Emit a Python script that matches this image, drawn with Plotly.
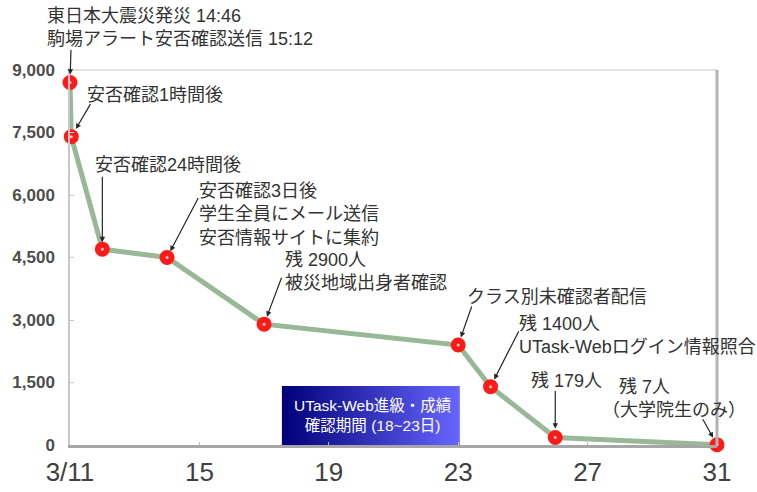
import plotly.graph_objects as go

# ---- data ----
days = [11, 11.04, 12, 14, 17, 23, 24, 26, 31]
remaining = [8700, 7400, 4700, 4500, 2900, 2400, 1400, 179, 7]
x_tickvals = [11, 15, 19, 23, 27, 31]
x_ticktext = ["3/11", "15", "19", "23", "27", "31"]
y_tickvals = [0, 1500, 3000, 4500, 6000, 7500, 9000]
y_ticktext = ["0", "1,500", "3,000", "4,500", "6,000", "7,500", "9,000"]
period_label = "UTask-Web進級・成績<br>確認期間 (18~23日)"

# ---- layout geometry (pixels) ----
W, H = 757, 492
L, R, T, B = 70, 717, 70, 445
PW, PH = R - L, B - T


def paper(px, py):
    return (px - L) / PW, (B - py) / PH


FONT = "Liberation Sans, Noto Sans CJK JP, sans-serif"
TXT = "#333333"

fig = go.Figure()

# period box with horizontal gradient
box_x0, box_x1, box_top = 17.55, 23.05, 1416
fig.add_trace(go.Scatter(
    x=[box_x0, box_x1, box_x1, box_x0, box_x0],
    y=[0, 0, box_top, box_top, 0],
    mode="lines", line=dict(width=0), fill="toself",
    fillgradient=dict(type="horizontal",
                      colorscale=[[0, "#00007a"], [1, "#6666ff"]]),
    hoverinfo="skip", showlegend=False,
))

fig.add_trace(go.Scatter(
    x=days, y=remaining, mode="lines+markers",
    line=dict(color="#98b898", width=5),
    marker=dict(size=9, color="#ffd0d0", line=dict(color="#ff1a1a", width=6)),
    cliponaxis=False, showlegend=False,
))

# arrows: (index, ax, ay, standoff)
arrows = [(0, 1, -34, 8), (1, 20, -34, 9), (2, 0, -74, 7), (3, 32, -61, 7),
          (4, 18, -48, 8), (5, 14, -40, 8), (6, 29, -57, 8), (7, 0, -48, 9),
          (8, -15, -27, 8)]
annotations = []
for i, ax, ay, so in arrows:
    annotations.append(dict(
        x=days[i], y=remaining[i], xref="x", yref="y", ax=ax, ay=ay,
        text="", showarrow=True, arrowhead=2, arrowsize=0.9, arrowwidth=1.2,
        arrowcolor="#262626", standoff=so,
    ))

# labels: (text, left px, center y px)
labels = [
    ("東日本大震災発災 14:46<br>駒場アラート安否確認送信 15:12", 45, 28),
    ("安否確認1時間後", 85, 95),
    ("安否確認24時間後", 93, 165),
    ("安否確認3日後<br>学生全員にメール送信<br>安否情報サイトに集約", 197, 214),
    ("残 2900人<br>被災地域出身者確認", 283, 271),
    ("クラス別未確認者配信", 465, 297),
    ("残 1400人<br>UTask-Webログイン情報照合", 517, 335),
    ("残 179人", 529, 381),
    ("残 7人", 617, 387),
    ("（大学院生のみ）", 600, 410),
]
for text, lx, cy in labels:
    px_, py_ = paper(lx, cy)
    annotations.append(dict(
        x=px_, y=py_, xref="paper", yref="paper", text=text, showarrow=False,
        xanchor="left", yanchor="middle", align="left",
        font=dict(family=FONT, size=18, color=TXT),
    ))

bx, by = paper(372, 415)
annotations.append(dict(
    x=bx, y=by, xref="paper", yref="paper", text=period_label, showarrow=False,
    xanchor="center", yanchor="middle", align="center",
    font=dict(family=FONT, size=15.5, color="white"),
))

fig.update_layout(
    width=W, height=H,
    margin=dict(l=L, r=W - R, t=T, b=H - B, pad=0, autoexpand=False),
    paper_bgcolor="white", plot_bgcolor="white",
    annotations=annotations,
    shapes=[
        dict(type="line", xref="paper", yref="paper", x0=0, x1=1, y0=1, y1=1,
             line=dict(color="#e2e2e2", width=2)),
        dict(type="line", xref="paper", yref="paper", x0=1, x1=1, y0=0, y1=1,
             line=dict(color="#b3b3b3", width=3)),
    ],
    xaxis=dict(
        range=[11, 31], tickvals=x_tickvals, ticktext=x_ticktext,
        showgrid=False, zeroline=False, showline=True, automargin=False,
        linecolor="#a6a6a6", linewidth=2.5,
        ticks="inside", ticklen=3, tickcolor="#c0c0c0",
        tickfont=dict(family="Liberation Sans", size=26, color="#404040"),
        ticklabelstandoff=2,
    ),
    yaxis=dict(
        range=[0, 9000], tickvals=y_tickvals, ticktext=y_ticktext,
        showgrid=False, zeroline=False, showline=True, automargin=False,
        linecolor="#c8c8c8", linewidth=1.5,
        ticks="inside", ticklen=4, tickcolor="#c8c8c8",
        tickfont=dict(family="Liberation Sans", size=17, color="#4d4d4d",
                      weight="bold"),
        ticklabelstandoff=10,
    ),
)

fig.write_html("out.html")
